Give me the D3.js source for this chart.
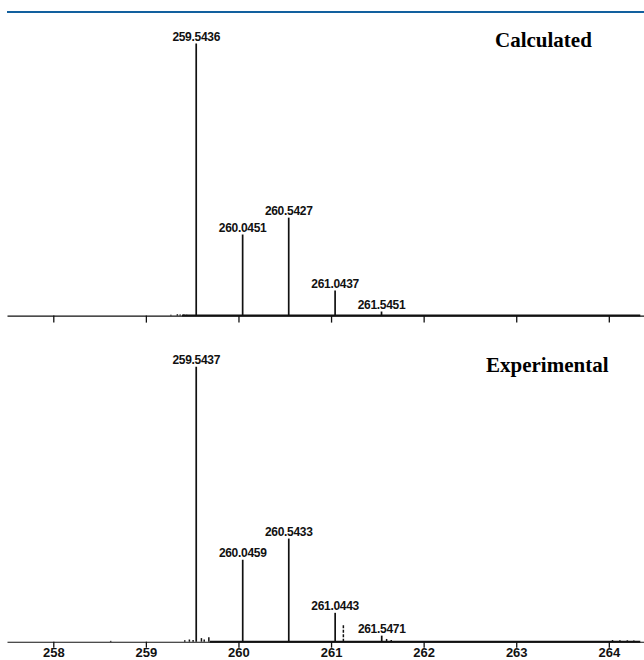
<!DOCTYPE html>
<html>
<head>
<meta charset="utf-8">
<script src="https://cdn.jsdelivr.net/npm/d3@7"></script>
<style>
body { margin: 0; background: #fff; }
</style>
</head>
<body>
<div id="chart"></div>
<script>
//Setting width and height variables
var w = 644;
var h = 660;

//Calculated isotope pattern (m/z and relative intensity %)
var calcMass = [259.5436, 260.0451, 260.5427, 261.0437, 261.5451];
var calcInt = [100, 29.8, 36.0, 9.2, 1.5];
var calcLabels = ["259.5436", "260.0451", "260.5427", "261.0437", "261.5451"];

//Experimental spectrum
var expMass = [259.5437, 260.0459, 260.5433, 261.0443, 261.5471];
var expInt = [100, 29.8, 37.5, 10.5, 2.2];
var expLabels = ["259.5437", "260.0459", "260.5433", "261.0443", "261.5471"];

//Unlabelled small peaks and baseline noise
var expExtraMass = [261.133];
var expExtraInt = [6.5];
var calcNoiseMass = [259.27, 259.34, 259.37, 259.41, 259.44];
var calcNoiseInt = [0.3, 0.5, 0.4, 0.4, 0.3];
var expNoiseMass = [258.62, 259.42, 259.47, 259.51, 259.60, 259.63, 259.68, 261.60, 261.65, 264.04, 264.12, 264.2, 264.27];
var expNoiseInt = [0.3, 0.5, 0.8, 0.6, 1.3, 0.8, 1.6, 1.0, 0.6, 0.6, 0.5, 0.5, 0.4];

//Axis ticks
var tickValues = [258, 259, 260, 261, 262, 263, 264];

//Creates svg onto webpage
var svg = d3.select("#chart")
    .append("svg")
    .attr("width", w)
    .attr("height", h);

//Blue rule across the top
svg.append("line")
    .attr("x1", 7).attr("x2", w)
    .attr("y1", 12).attr("y2", 12)
    .attr("stroke", "#12609e")
    .attr("stroke-width", 2.2);

//Shared x scale (m/z)
var xscale = d3.scaleLinear()
    .domain([257.5, 264.38])
    .range([7, 644]);

//One y scale per panel
var yTop = d3.scaleLinear().domain([0, 100]).range([315.6, 43.5]);
var yBot = d3.scaleLinear().domain([0, 100]).range([641.7, 366.7]);

function panel(mass, ints, labels, ys, title, titleX, titleY, showLabels, baseFrom, tickLen)
{
    var g = svg.append("g");

    //Axis
    var xaxis = d3.axisBottom(xscale)
        .tickValues(tickValues)
        .tickSize(tickLen)
        .tickSizeOuter(0)
        .tickPadding(0)
        .tickFormat(showLabels ? d3.format("d") : "");

    var ax = g.append("g")
        .attr("transform", "translate(0," + ys(0) + ")")
        .call(xaxis);
    ax.select(".domain").attr("stroke", "#111").attr("stroke-width", 1.1);
    ax.selectAll(".tick line").attr("stroke", "#111").attr("stroke-width", 1.3);
    ax.selectAll(".tick text")
        .attr("fill", "#111")
        .style("font-family", "'Liberation Sans', Arial, sans-serif")
        .style("font-weight", "bold")
        .style("font-size", "13px");

    //Thicker spectrum baseline
    g.append("line")
        .attr("x1", xscale(baseFrom)).attr("x2", xscale(264.34))
        .attr("y1", ys(0)).attr("y2", ys(0))
        .attr("stroke", "#111")
        .attr("stroke-width", 2);

    //Stick peaks
    g.selectAll(".peak")
        .data(mass)
        .enter()
        .append("line")
        .attr("x1", d => xscale(d)).attr("x2", d => xscale(d))
        .attr("y1", ys(0))
        .attr("y2", (d, i) => ys(ints[i]))
        .attr("stroke", "#111")
        .attr("stroke-width", 1.7);

    //Peak labels
    g.selectAll(".plabel")
        .data(mass)
        .enter()
        .append("text")
        .attr("x", d => xscale(d))
        .attr("y", (d, i) => ys(ints[i]) - 3)
        .attr("text-anchor", "middle")
        .attr("fill", "#111")
        .style("font-family", "'Liberation Sans', Arial, sans-serif")
        .style("font-weight", "bold")
        .style("font-size", "12px")
        .style("letter-spacing", "-0.3px")
        .text((d, i) => labels[i]);

    //Panel title
    g.append("text")
        .attr("x", titleX)
        .attr("y", titleY)
        .attr("fill", "#000")
        .style("font-family", "'Liberation Serif', 'Times New Roman', serif")
        .style("font-weight", "bold")
        .style("font-size", "21px")
        .text(title);

    return g;
}

//Draws small peaks / noise
function smallPeaks(mass, ints, ys, dash)
{
    svg.append("g")
        .selectAll("line")
        .data(mass)
        .enter()
        .append("line")
        .attr("x1", d => xscale(d)).attr("x2", d => xscale(d))
        .attr("y1", ys(0))
        .attr("y2", (d, i) => ys(ints[i]))
        .attr("stroke", "#111")
        .attr("stroke-width", 1.5)
        .attr("stroke-dasharray", dash ? "3,1.5" : null);
}

panel(calcMass, calcInt, calcLabels, yTop, "Calculated", 495, 47, false, 259.39, 7);
panel(expMass, expInt, expLabels, yBot, "Experimental", 486, 372, true, 259.69, 6);

smallPeaks(calcNoiseMass, calcNoiseInt, yTop, false);
smallPeaks(expNoiseMass, expNoiseInt, yBot, false);
smallPeaks(expExtraMass, expExtraInt, yBot, true);
</script>
</body>
</html>
